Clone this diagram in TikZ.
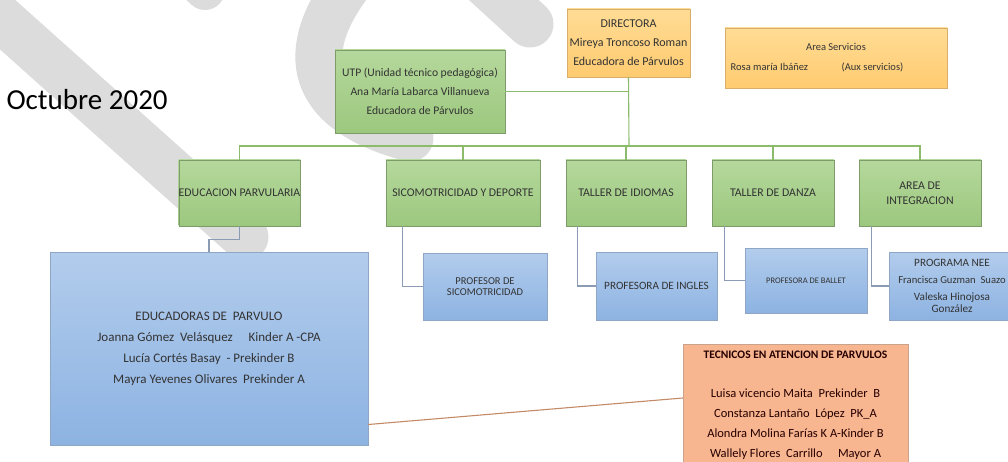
\documentclass[tikz,border=0pt]{standalone}
\usepackage{fontspec}
\setmainfont{Carlito}
\usepackage{xcolor}
\definecolor{marca}{HTML}{DCDCDC}
\definecolor{verdeA}{HTML}{B5D89C}
\definecolor{verdeB}{HTML}{9CC87E}
\definecolor{bordeverde}{HTML}{7E9C6A}
\definecolor{lineaverde}{HTML}{8DBB6C}
\definecolor{naranjaA}{HTML}{FFDC95}
\definecolor{naranjaB}{HTML}{FFCB70}
\definecolor{bordenaranja}{HTML}{D8AE6A}
\definecolor{azulA}{HTML}{B2CCEC}
\definecolor{azulB}{HTML}{8DB3E2}
\definecolor{bordeazul}{HTML}{8FA6C4}
\definecolor{lineaazul}{HTML}{8A9BB3}
\definecolor{salmon}{HTML}{F7B590}
\definecolor{bordesalmon}{HTML}{C9A38C}
\definecolor{lineasalmon}{HTML}{C48A66}

\begin{document}
\begin{tikzpicture}[x=1pt,y=-1pt]
\tikzstyle{caja} = [rectangle, inner sep=0pt, align=center, text=black!80,
font=\fontsize{11.8}{19}\selectfont]
\tikzstyle{verde} = [caja, draw=bordeverde, top color=verdeA, bottom color=verdeB]
\tikzstyle{naranja} = [caja, draw=bordenaranja, top color=naranjaA, bottom color=naranjaB]
\tikzstyle{azul} = [caja, draw=bordeazul, top color=azulA, bottom color=azulB]
\tikzstyle{tecnico} = [caja, draw=bordesalmon, fill=salmon, text=black!85!red]
\tikzstyle{marcaagua} = [draw=marca, line width=47pt, line cap=round]

\useasboundingbox (0,0) rectangle (1008,462);
\clip (0,0) rectangle (1008,462);

% marca de agua
\draw[marcaagua] (-20,0) -- (245,237);
\draw[marcaagua, line width=40pt] (150,-60) -- (205,-10);
\draw[marcaagua] (348,-15) .. controls (300,50) and (305,110) .. (410,138);
\draw[marcaagua] (460,-40) -- (530,24);

\node[anchor=west, font=\fontsize{29}{29}\selectfont] (fecha) at (3,100) {Octubre 2020};

% fila 1
\node[naranja, minimum width=123, minimum height=68, font=\fontsize{12}{19}\selectfont] (dir) at (628.5,43)
{DIRECTORA\\Mireya Troncoso Roman\\Educadora de Párvulos};
\node[naranja, minimum width=222, minimum height=60, font=\fontsize{10.5}{20}\selectfont] (serv) at (836,58)
{Area Servicios\\Rosa maría Ibáñez\hspace{3.2em}(Aux servicios)\hspace*{38pt}};
\node[verde, minimum width=170, minimum height=83, font=\fontsize{11.6}{19}\selectfont] (utp) at (420,91.5)
{UTP (Unidad técnico pedagógica)\\Ana María Labarca Villanueva\\Educadora de Párvulos};

% fila 2
\node[verde, minimum width=121, minimum height=66] (edu) at (239.5,193) {EDUCACION PARVULARIA};
\node[verde, minimum width=154, minimum height=66] (sico) at (463,193) {SICOMOTRICIDAD Y DEPORTE};
\node[verde, minimum width=120, minimum height=66] (idio) at (626,193) {TALLER DE IDIOMAS};
\node[verde, minimum width=122, minimum height=66] (danza) at (773,193) {TALLER DE DANZA};
\node[verde, minimum width=122, minimum height=66, font=\fontsize{11.8}{15}\selectfont]
(integ) at (920,193) {AREA DE\\INTEGRACION};

% fila 3
\node[azul, minimum width=318, minimum height=193, font=\fontsize{13}{21}\selectfont] (big) at (209,348.5)
{EDUCADORAS DE \ PARVULO\\Joanna Gómez \ Velásquez \quad Kinder A -CPA\\
Lucía Cortés Basay \ - Prekinder B\\Mayra Yevenes Olivares \ Prekinder A};
\node[azul, minimum width=124, minimum height=67, font=\fontsize{10.5}{10.5}\selectfont] (psico) at (485,286.5)
{PROFESOR DE\\SICOMOTRICIDAD};
\node[azul, minimum width=121, minimum height=68, font=\fontsize{11.2}{12}\selectfont] (ingles) at (656.5,286)
{PROFESORA DE INGLES};
\node[azul, minimum width=122, minimum height=65, font=\fontsize{8.5}{9}\selectfont] (ballet) at (806,280.5)
{PROFESORA DE BALLET};
\node[azul, minimum width=126, minimum height=68, font=\fontsize{11.2}{17}\selectfont] (nee) at (952,286)
{PROGRAMA NEE\\{\fontsize{10.6}{17}\selectfont Francisca Guzman \ Suazo}\\Valeska Hinojosa\\[-5pt]González};

% fila 4
\node[tecnico, minimum width=225, minimum height=122, font=\fontsize{12.5}{20}\selectfont] (tec) at (795.5,405)
{\fontsize{11.5}{20}\selectfont\textbf{TECNICOS EN ATENCION DE PARVULOS}\\[19pt]Luisa vicencio Maita \ Prekinder \ B\\
Constanza Lantaño \ López \ PK\_A\\Alondra Molina Farías K A-Kinder B\\
Wallely Flores \ Carrillo \quad Mayor A};

% lineas
\coordinate (bus) at (629,146);
\tikzstyle{every path}=[draw=lineaverde, line width=1.1pt]
\path (dir.south) -- (bus);
\path (utp.east) -- (utp.east -| dir.south);
\foreach \n in {edu,sico,idio,danza,integ}
  \path (bus) -| (\n.north);
\tikzstyle{every path}=[draw=lineaazul, line width=1.1pt]
\path (edu.south) -- ++(0,13) -| (big.north);
\foreach \a/\b/\d in {sico/psico/17,idio/ingles/12,danza/ballet/13,integ/nee/13}
  \path ([xshift=\d]\a.south west) |- (\b.west);
\path[draw=lineasalmon] ([yshift=-76pt]big.east) -- ([yshift=7pt]tec.west);

\end{tikzpicture}
\end{document}
